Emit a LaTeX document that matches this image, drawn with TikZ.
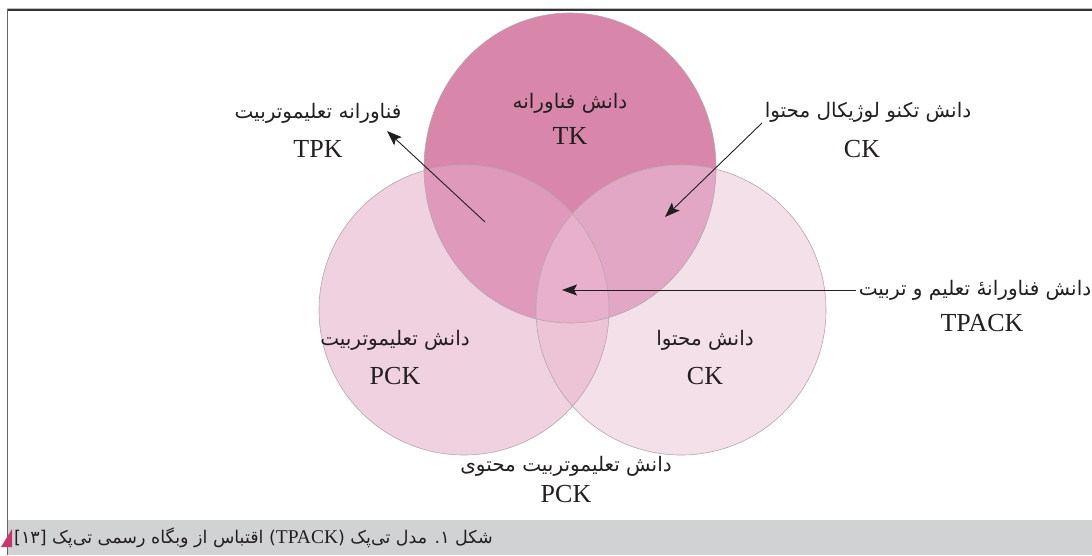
\documentclass[tikz,border=0pt]{standalone}
\usepackage{fontspec}
\setmainfont{Liberation Serif}
\newfontfamily\fa[Script=Arabic]{DejaVu Sans}
\TeXXeTstate=1
\usetikzlibrary{arrows.meta}
\definecolor{cT}{HTML}{D887AA}
\definecolor{cL}{HTML}{F0D1DF}
\definecolor{cR}{HTML}{F4E0E8}
\definecolor{cTL}{HTML}{DE99BB}
\definecolor{cTR}{HTML}{E1A7C5}
\definecolor{cLR}{HTML}{EDC3D6}
\definecolor{cC}{HTML}{E8B0CA}
\definecolor{ink}{HTML}{231F20}
\definecolor{ringc}{HTML}{B7A5AE}
\definecolor{capbg}{HTML}{D1D2D4}
\definecolor{tri}{HTML}{C8356F}
\definecolor{frameTop}{HTML}{333333}
\definecolor{frameL}{HTML}{666666}
\begin{document}
\begin{tikzpicture}[x=1pt,y=-1pt,
  fa/.style={font=\fa\fontsize{20}{24}\selectfont, text=ink, inner sep=0pt},
  la/.style={font=\fontsize{26}{30}\selectfont, text=ink, inner sep=0pt},
  capfa/.style={font=\fa\fontsize{17.5}{20}\selectfont, text=ink, inner sep=0pt, anchor=west},
  conn/.style={draw=ink, line width=0.9pt, -{Stealth[length=15pt,width=11pt,inset=3pt]}},
  ring/.style={draw=ringc, line width=0.6pt}]
\useasboundingbox (0,0) rectangle (1092,555);
\fill[white] (0,0) rectangle (1092,555);
% circles
\fill[cT] (570,168) ellipse [x radius=146, y radius=155];
\fill[cL] (464,310) circle [radius=145];
\fill[cR] (681,310) circle [radius=145];
\begin{scope}
  \clip (570,168) ellipse [x radius=146, y radius=155];
  \fill[cTL] (464,310) circle [radius=145];
  \fill[cTR] (681,310) circle [radius=145];
\end{scope}
\begin{scope}
  \clip (464,310) circle [radius=145];
  \fill[cLR] (681,310) circle [radius=145];
  \clip (570,168) ellipse [x radius=146, y radius=155];
  \fill[cC] (681,310) circle [radius=145];
\end{scope}
\draw[ring] (570,168) ellipse [x radius=146, y radius=155];
\draw[ring] (464,310) circle [radius=145];
\draw[ring] (681,310) circle [radius=145];
% frame and caption band
\fill[capbg] (8,520) rectangle (1092,555);
\draw[black!25, line width=0.8pt] (7,8) -- (1092,8);
\draw[frameTop, line width=1.4pt] (7,9.8) -- (1092,9.8);
\draw[frameL, line width=1.6pt] (7.5,9) -- (7.5,555);
\fill[tri] (1,547) -- (12,547) -- (12,529) -- cycle;
\node[capfa] (cap) at (14,538)
  {\beginR شکل ۱. مدل تی‌پک (\beginL{\rmfamily\fontsize{19.5}{20}\selectfont TPACK}\endL) اقتباس از وبگاه رسمی تی‌پک [۱۳]\endR};
% labels
\node[fa] (tpkFa) at (318,113) {\beginR فناورانه تعلیموتربیت\endR};
\node[la] (tpkLa) at (318,149) {TPK};
\node[fa] (tkFa) at (570,103) {\beginR دانش فناورانه\endR};
\node[la] (tkLa) at (570,136) {TK};
\node[fa] (ckTopFa) at (868,112) {\beginR دانش تکنو لوژیکال محتوا\endR};
\node[la] (ckTopLa) at (862,149) {CK};
\node[fa] (tpackFa) at (975,290) {\beginR دانش فناورانهٔ تعلیم و تربیت\endR};
\node[la] (tpackLa) at (982,323) {TPACK};
\node[fa] (pckFa) at (395,340) {\beginR دانش تعلیموتربیت\endR};
\node[la] (pckLa) at (395,376) {PCK};
\node[fa] (ckFa) at (705,340) {\beginR دانش محتوا\endR};
\node[la] (ckLa) at (705,376) {CK};
\node[fa] (pcFa) at (566,466) {\beginR دانش تعلیموتربیت محتوی\endR};
\node[la] (pcLa) at (566,494) {PCK};
% connectors
\coordinate (a1s) at (485,222);
\coordinate (a1e) at (387,131);
\draw[conn] (a1s) -- (a1e);
\coordinate (a2s) at (762,123);
\coordinate (a2e) at (665,217);
\draw[conn] (a2s) -- (a2e);
\coordinate (a3e) at (565,0);
\draw[conn] ([xshift=-3pt]tpackFa.west) -- ([xshift=-3pt]tpackFa.west -| a3e);
\end{tikzpicture}
\end{document}
